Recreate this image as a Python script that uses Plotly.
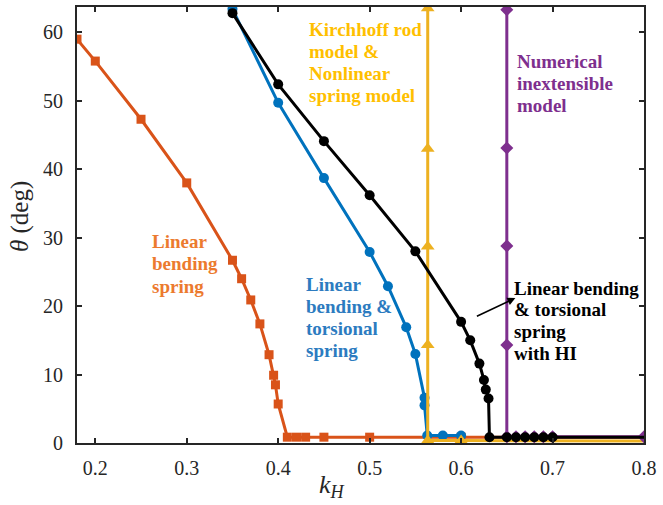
import plotly.graph_objects as go

# ---- data ----
orange_x = [0.18, 0.2, 0.25, 0.3, 0.35, 0.36, 0.37, 0.38, 0.39, 0.395, 0.397, 0.4,
            0.41, 0.42, 0.43, 0.45, 0.5, 0.6, 0.8]
orange_y = [59.0, 55.8, 47.3, 38.0, 26.7, 24.0, 20.9, 17.4, 12.9, 9.9, 8.5, 5.7,
            0.85, 0.85, 0.85, 0.85, 0.85, 0.85, 0.85]

blue_x = [0.35, 0.4, 0.45, 0.5, 0.52, 0.54, 0.55, 0.56, 0.56, 0.563, 0.58, 0.6]
blue_y = [63.4, 49.7, 38.7, 27.9, 22.9, 16.9, 13.0, 6.6, 5.5, 1.1, 1.1, 1.1]

yellow_x = [0.5635, 0.5635, 0.5635, 0.5635, 0.5635, 0.6, 0.8]
yellow_y = [63.5, 43.0, 28.7, 14.3, 0.35, 0.35, 0.3]

purple_x = [0.65, 0.65, 0.65, 0.65, 0.65, 0.66, 0.67, 0.68, 0.69, 0.7, 0.8]
purple_y = [63.3, 43.1, 28.8, 14.3, 0.9, 0.9, 0.9, 0.9, 0.9, 0.9, 0.9]

black_x = [0.35, 0.4, 0.45, 0.5, 0.55, 0.6, 0.61, 0.62, 0.625, 0.627, 0.63, 0.631,
           0.65, 0.66, 0.67, 0.68, 0.69, 0.7, 0.8]
black_y = [62.8, 52.4, 44.1, 36.2, 28.0, 17.7, 15.0, 11.6, 9.2, 7.8, 6.5, 0.85,
           0.85, 0.85, 0.85, 0.85, 0.85, 0.85, 0.85]

x_ticks = [0.2, 0.3, 0.4, 0.5, 0.6, 0.7, 0.8]
y_ticks = [0, 10, 20, 30, 40, 50, 60]

labels = {
    "orange": ["Linear", "bending", "spring"],
    "blue": ["Linear", "bending &", "torsional", "spring"],
    "yellow": ["Kirchhoff rod", "model &", "Nonlinear", "spring model"],
    "purple": ["Numerical", "inextensible", "model"],
    "black": ["Linear bending", "& torsional", "spring", "with HI"],
}

C_OR, C_BL, C_YE, C_PU, C_BK = "#D95319", "#0072BD", "#EDB120", "#7E2F8E", "#000000"

fig = go.Figure()

def add(x, y, color, symbol, size, last_hidden=False):
    sizes = [size] * len(x)
    if last_hidden:
        sizes[-1] = 0
    fig.add_trace(go.Scatter(
        x=x, y=y, mode="lines+markers",
        line=dict(color=color, width=3),
        marker=dict(color=color, symbol=symbol, size=sizes, opacity=1,
                    line=dict(width=0)),
        showlegend=False, cliponaxis=True, hoverinfo="skip"))

add(orange_x, orange_y, C_OR, "square", 9, True)
add(blue_x, blue_y, C_BL, "circle", 10)
add(yellow_x, yellow_y, C_YE, "triangle-up", 12, True)
add(purple_x, purple_y, C_PU, "diamond", 10)
add(black_x, black_y, C_BK, "circle", 10, True)

FONT_LAB = "Liberation Serif"

def px2x(px):
    return 0.2 + (px - 95.7) / 915.0

def py2y(py):
    return (443.0 - py) / 6.845

ann = []
def block(lines, x_px, y0_px, color, dy=22):
    for i, t in enumerate(lines):
        ann.append(dict(x=px2x(x_px), y=py2y(y0_px + i * dy), xref="x", yref="y",
                        text="<b>" + t + "</b>", showarrow=False,
                        xanchor="left", yanchor="middle",
                        font=dict(family=FONT_LAB, size=19, color=color)))

block(labels["orange"], 150, 241, "#EC7A2E", 22.5)
block(labels["blue"], 305, 284, "#2C7BC0", 22)
block(labels["yellow"], 308, 29.5, "#FFBF00", 22)
block(labels["purple"], 515.5, 61.5, "#7E2F8E", 22)
block(labels["black"], 512.7, 288, "#000000", 21.8)

# arrow
ann.append(dict(x=px2x(516), y=py2y(298), ax=px2x(476), ay=py2y(317),
                xref="x", yref="y", axref="x", ayref="y", text="",
                showarrow=True, arrowhead=2, arrowsize=1, arrowwidth=1.6,
                arrowcolor="#000000"))

# axis titles
ann.append(dict(x=-(77 - 20) / 567.0, y=(443 - 217) / 436.0, xref="paper", yref="paper",
                text="<i>θ</i> (deg)", showarrow=False, textangle=-90,
                xanchor="center", yanchor="middle",
                font=dict(family=FONT_LAB, size=25, color="#262626")))
ann.append(dict(x=(332 - 77) / 567.0, y=-(486 - 443) / 436.0, xref="paper", yref="paper",
                text="<i>k</i><sub><i>H</i></sub>", showarrow=False,
                xanchor="center", yanchor="middle",
                font=dict(family=FONT_LAB, size=26, color="#262626")))

axis_common = dict(showgrid=False, zeroline=False, showline=True, linecolor="#262626",
                   linewidth=2, mirror="ticks", ticks="inside", ticklen=5, tickwidth=2,
                   tickcolor="#262626", automargin=False,
                   tickfont=dict(family=FONT_LAB, size=20, color="#262626"))

fig.update_layout(
    width=663, height=505,
    margin=dict(l=77, r=19, t=7, b=62),
    paper_bgcolor="white", plot_bgcolor="white",
    xaxis=dict(range=[0.18, 0.8], tickvals=x_ticks,
               ticktext=[f"{v:.1f}" for v in x_ticks], ticklabelstandoff=6, **axis_common),
    yaxis=dict(range=[0, 63.7], tickvals=y_ticks,
               ticktext=[str(v) for v in y_ticks], ticklabelstandoff=8, **axis_common),
    annotations=ann,
)

fig.write_html("out.html", config={"displayModeBar": False, "staticPlot": True},
               post_script="document.body.style.margin='0';document.body.style.overflow='hidden';")
